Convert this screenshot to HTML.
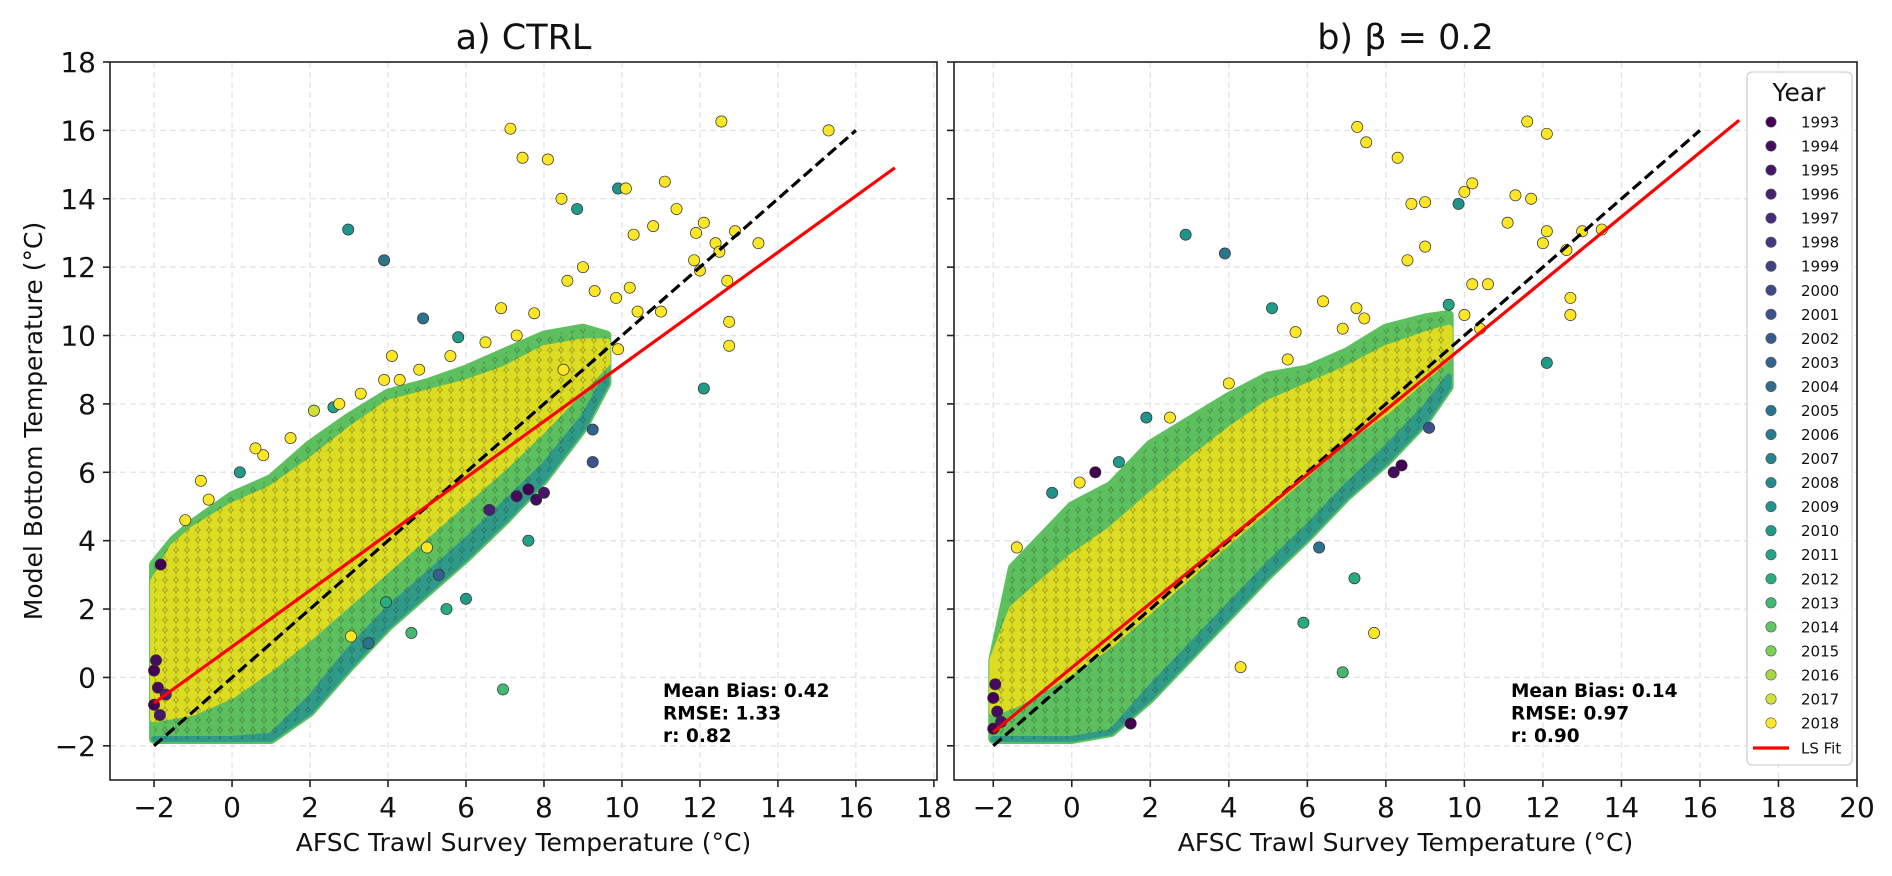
<!DOCTYPE html>
<html><head><meta charset="utf-8"><style>
html,body{margin:0;padding:0;background:#fff}
svg{display:block;font-family:"DejaVu Sans","Liberation Sans",sans-serif}
</style></head><body>
<svg id="fig" width="1892" height="876" viewBox="0 0 1892 876">
<defs>
<pattern id="tex" width="11" height="10" patternUnits="userSpaceOnUse">
<circle cx="5.5" cy="5" r="5.8" fill="none" stroke="#222" stroke-width="0.7" stroke-opacity="0.4"/>
</pattern>
</defs>
</svg>
<script>
// ---------- data ----------
const years = [1993,1994,1995,1996,1997,1998,1999,2000,2001,2002,2003,2004,2005,2006,2007,2008,2009,2010,2011,2012,2013,2014,2015,2016,2017,2018];
const envX = [-2,-1.5,-1,0,1,2,3,4,5,6,7,8,9,9.6];
// left panel (CTRL) density envelope
const ctrlLo = [-1.8,-1.8,-1.8,-1.8,-1.8,-1.0,0.3,1.5,2.5,3.5,4.6,5.8,7.3,8.6];
const ctrlHi = [3.3,4.0,4.5,5.3,5.8,6.8,7.6,8.3,8.6,9.0,9.5,10.0,10.2,10.0];
const ctrlTealHi = [-1.8,-1.8,-1.8,-1.8,-1.7,-0.6,0.8,2.0,3.0,4.0,5.1,6.2,7.6,8.8];
const ctrlCoreLo = [-1.2,-1.1,-1.0,-0.5,0.3,1.2,2.2,3.2,4.2,5.2,6.2,7.3,8.5,9.2];
const ctrlCoreHi = [2.8,3.8,4.3,5.0,5.5,6.3,7.2,8.0,8.3,8.6,9.0,9.6,9.8,9.8];
// right panel (beta=0.2)
const betaLo = [-1.8,-1.8,-1.8,-1.8,-1.6,-0.6,0.6,1.8,3.0,4.1,5.3,6.3,7.5,8.5];
const betaHi = [0.5,3.2,3.8,5.0,5.6,6.8,7.5,8.2,8.8,9.0,9.5,10.2,10.5,10.6];
const betaTealHi = [-1.8,-1.8,-1.8,-1.8,-1.6,-0.3,0.9,2.1,3.3,4.4,5.6,6.7,7.9,8.8];
const betaCoreLo = [-1.0,-0.8,-0.5,0.2,1.0,2.0,3.0,4.0,5.0,6.0,7.0,7.8,8.8,9.4];
const betaCoreHi = [0.5,2.0,2.5,3.5,4.3,5.3,6.3,7.2,8.0,8.5,9.0,9.6,10.0,10.2];
// outlier points [x, y, yearIndex]
const ctrlPts = [[7.14,16.05,25],[12.55,16.26,25],[15.3,16.0,25],[7.45,15.2,25],[8.1,15.15,25],[2.98,13.1,16],[3.9,12.2,12],
[8.45,14.0,25],[8.85,13.7,17],[9.9,14.3,16],[10.1,14.3,25],[11.1,14.5,25],[11.4,13.7,25],[11.9,13.0,25],[12.1,13.3,25],[12.9,13.05,25],
[13.5,12.7,25],[12.4,12.7,25],[11.85,12.2,25],[12.0,11.9,25],[12.5,12.45,25],[12.7,11.6,25],[10.8,13.2,25],[10.3,12.95,25],[9.0,12.0,25],
[8.6,11.6,25],[9.3,11.3,25],[10.2,11.4,25],[10.4,10.7,25],[9.85,11.1,25],[11.0,10.7,25],[12.75,10.4,25],[12.75,9.7,25],[12.1,8.45,17],
[9.9,9.6,25],[7.75,10.65,25],[6.9,10.8,25],[6.95,-0.35,20],[5.0,3.8,25],[7.6,4.0,18],[3.95,2.2,19],[4.6,1.3,20],[3.05,1.2,25],
[9.25,7.25,10],[2.6,7.9,18],[2.1,7.8,24],[0.8,6.5,25],[0.6,6.7,25],[-0.6,5.2,25],[-0.8,5.75,25],[2.75,8.0,25],[3.9,8.7,25],[4.1,9.4,25],
[4.9,10.5,12],[5.8,9.95,17],[5.6,9.4,25],[4.3,8.7,25],[7.3,5.3,1],[7.6,5.5,0],[8.0,5.4,2],[7.8,5.2,1],[9.25,6.3,8],[6.6,4.9,3],
[-1.83,3.3,0],[-2.0,-0.8,0],[-1.9,-0.3,1],[-2.0,0.2,0],[-1.85,-1.1,2],[-1.95,0.5,1],[-1.7,-0.5,3],[6.0,2.3,17],[5.5,2.0,19],
[1.5,7.0,25],[0.2,6.0,17],[-1.2,4.6,25],[3.3,8.3,25],[4.8,9.0,25],[6.5,9.8,25],[7.3,10.0,25],[8.5,9.0,25],[5.3,3.0,10],[3.5,1.0,12]];
const betaPts = [[7.27,16.1,25],[7.5,15.65,25],[8.3,15.2,25],[11.6,16.26,25],[12.1,15.9,25],[8.65,13.85,25],[9.0,13.9,25],[9.85,13.85,16],
[10.2,14.45,25],[10.0,14.2,25],[11.3,14.1,25],[11.7,14.0,25],[11.1,13.3,25],[12.1,13.05,25],[12.0,12.7,25],[12.6,12.5,25],[13.0,13.05,25],
[13.5,13.1,25],[12.7,11.1,25],[12.7,10.6,25],[12.1,9.2,17],[8.55,12.2,25],[9.0,12.6,25],[10.2,11.5,25],[10.6,11.5,25],[10.0,10.6,25],
[2.9,12.95,16],[3.9,12.4,12],[6.4,11.0,25],[7.25,10.8,25],[7.45,10.5,25],[6.9,10.2,25],[5.7,10.1,25],[5.1,10.8,17],[9.6,10.9,18],
[6.9,0.15,20],[7.7,1.3,25],[5.9,1.6,19],[7.2,2.9,19],[4.3,0.3,25],[8.2,6.0,1],[8.4,6.2,0],[9.1,7.3,8],[0.6,6.0,0],[1.9,7.6,16],
[-2.0,-1.5,0],[-1.9,-1.0,1],[-2.0,-0.6,0],[-1.8,-1.3,2],[-1.95,-0.2,1],[-0.5,5.4,16],[1.5,-1.35,0],[6.3,3.8,12],[10.4,10.2,25],
[-1.4,3.8,25],[0.2,5.7,25],[1.2,6.3,17],[2.5,7.6,25],[4.0,8.6,25],[5.5,9.3,25]];
const ctrlStats = ["Mean Bias: 0.42","RMSE: 1.33","r: 0.82"];
const betaStats = ["Mean Bias: 0.14","RMSE: 0.97","r: 0.90"];
const ctrlFit = [-0.75, 0.824];   // intercept at x=-2, slope
const betaFit = [-1.6, 0.942];
const ctrlTicksX = [-2,0,2,4,6,8,10,12,14,16,18];
const betaTicksX = [-2,0,2,4,6,8,10,12,14,16,18,20];
const ticksY = [-2,0,2,4,6,8,10,12,14,16,18];

// ---------- helpers ----------
const NS = "http://www.w3.org/2000/svg";
const svg = document.getElementById('fig');
function mk(tag, attrs, parent){ const e=document.createElementNS(NS,tag); for(const k in attrs) e.setAttribute(k,attrs[k]); (parent||svg).appendChild(e); return e; }
const vstops=[[0,[68,1,84]],[0.13,[72,36,117]],[0.25,[65,68,135]],[0.38,[53,95,141]],[0.5,[42,120,142]],[0.63,[33,145,140]],[0.75,[34,168,132]],[0.88,[122,209,81]],[1,[253,231,37]]];
function viridis(t){ for(let i=1;i<vstops.length;i++){ if(t<=vstops[i][0]){ const a=vstops[i-1],b=vstops[i],f=(t-a[0])/(b[0]-a[0]); const c=a[1].map((v,j)=>Math.round(v+(b[1][j]-v)*f)); return `rgb(${c.join(',')})`; } } return 'rgb(253,231,37)'; }
function yearColor(i){ return viridis(i/(years.length-1)); }

function panel(cfg){
  const {L,R,T,B,xmin,xmax,ymin,ymax} = cfg;
  const g = mk('g',{});
  
  
  const sx = v => L + (v-xmin)/(xmax-xmin)*(R-L);
  const sy = v => B - (v-ymin)/(ymax-ymin)*(B-T);
  const clipId = cfg.name+'-clip';
  const cp = mk('clipPath',{id:clipId},g); mk('rect',{x:L,y:T,width:R-L,height:B-T},cp);
  const grid = mk('g',{stroke:'#e3e3e3','stroke-width':1.3,'stroke-dasharray':'6,4'},g);
   
  cfg.ticksX.forEach(t=>mk('line',{x1:sx(t),x2:sx(t),y1:T,y2:B},grid));
  ticksY.forEach(t=>mk('line',{x1:L,x2:R,y1:sy(t),y2:sy(t)},grid));
  const plot = mk('g',{'clip-path':`url(#${clipId})`},g);
  function band(lo,hi,fill,extra){
    let d='M'+envX.map((x,i)=>sx(x)+','+sy(hi[i])).join(' L');
    d+=' L'+envX.map((x,i)=>[x,i]).reverse().map(([x,i])=>sx(x)+','+sy(lo[i])).join(' L')+'Z';
    return mk('path',Object.assign({d:d,fill:fill,stroke:fill,'stroke-width':10,'stroke-linejoin':'round'},extra||{}),plot);
  }
  const c1=band(cfg.lo,cfg.hi,'#5cc05e');  
  const c2=band(cfg.lo,cfg.tealHi,'#2f9a88',{'stroke-width':6});  
  const c3=band(cfg.coreLo,cfg.coreHi,'#dcdc22',{'stroke-width':8});  
  const c4=band(cfg.lo,cfg.hi,'url(#tex)',{stroke:'none'});  
  cfg.pts.forEach(p=>{
    const c=mk('circle',{cx:sx(p[0]),cy:sy(p[1]),r:5.6,fill:yearColor(p[2]),stroke:'#333','stroke-width':0.7},plot);
    
    
  });
  const one = mk('line',{x1:sx(-2),y1:sy(-2),x2:sx(16),y2:sy(16),stroke:'#000','stroke-width':3.2,'stroke-dasharray':'11,5'},plot);
   
  const fit = mk('line',{x1:sx(-2),y1:sy(cfg.fit[0]),x2:sx(17),y2:sy(cfg.fit[0]+cfg.fit[1]*19),stroke:'#ff0000','stroke-width':3.2},plot);
   
  const sp = mk('rect',{x:L,y:T,width:R-L,height:B-T,fill:'none',stroke:'#222','stroke-width':1.6},g);
   
  cfg.ticksX.forEach(t=>{
    mk('line',{x1:sx(t),x2:sx(t),y1:B,y2:B+7,stroke:'#222','stroke-width':1.6},g);
    const tx=mk('text',{x:sx(t),y:817,'font-size':28,'text-anchor':'middle',fill:'#111'},g);
    tx.textContent=(t<0?'\u2212'+(-t):t);
     
  });
  ticksY.forEach(t=>{
    mk('line',{x1:L-7,x2:L,y1:sy(t),y2:sy(t),stroke:'#222','stroke-width':1.6},g);
    if(cfg.yLabels){
      const ty=mk('text',{x:L-14,y:sy(t)+10,'font-size':28,'text-anchor':'end',fill:'#111'},g);
      ty.textContent=(t<0?'\u2212'+(-t):t);
       
    }
  });
  const xl=mk('text',{x:(L+R)/2,y:851,'font-size':25,'text-anchor':'middle',fill:'#111'},g);
  xl.textContent='AFSC Trawl Survey Temperature (°C)';
   
  const ti=mk('text',{x:(L+R)/2,y:49,'font-size':35,'text-anchor':'middle',fill:'#111'},g);
  ti.textContent=cfg.title;
   
  cfg.stats.forEach((s,i)=>{
    const st=mk('text',{x:cfg.statX,y:697+i*22.5,'font-size':18.5,'font-weight':'bold',fill:'#000'},g);
    st.textContent=s;
     
  });
}

panel({name:'panel-ctrl',L:110,R:937,T:62,B:780,xmin:-3.13,xmax:18.08,ymin:-3.0,ymax:18.0,ticksX:ctrlTicksX,yLabels:true,
  lo:ctrlLo,hi:ctrlHi,tealHi:ctrlTealHi,coreLo:ctrlCoreLo,coreHi:ctrlCoreHi,pts:ctrlPts,fit:ctrlFit,title:'a) CTRL',stats:ctrlStats,statX:663});
panel({name:'panel-beta',L:954,R:1857,T:62,B:780,xmin:-3.0,xmax:20.0,ymin:-3.0,ymax:18.0,ticksX:betaTicksX,yLabels:false,
  lo:betaLo,hi:betaHi,tealHi:betaTealHi,coreLo:betaCoreLo,coreHi:betaCoreHi,pts:betaPts,fit:betaFit,title:'b) β = 0.2',stats:betaStats,statX:1511});

const yl=mk('text',{x:0,y:0,'font-size':25,'text-anchor':'middle',fill:'#111',transform:'translate(42,421) rotate(-90)'});
yl.textContent='Model Bottom Temperature (°C)';
 

const lg=mk('g',{});
 
mk('rect',{x:1747,y:72,width:105,height:693,rx:5,fill:'#fff','fill-opacity':0.85,stroke:'#d0d0d0','stroke-width':1.3},lg);
const lt=mk('text',{x:1799,y:101,'font-size':25,'text-anchor':'middle',fill:'#111'},lg);
lt.textContent='Year';
 
years.forEach((yr,i)=>{
  const y=122+i*24.04;
  const e=mk('g',{},lg);
   
  mk('circle',{cx:1771,cy:y,r:5.2,fill:yearColor(i),stroke:'#555','stroke-width':0.6},e);
  const t=mk('text',{x:1801,y:y+5.5,'font-size':15,fill:'#111'},e); t.textContent=yr;
});
const fe=mk('g',{},lg);
 
mk('line',{x1:1753,x2:1789,y1:748,y2:748,stroke:'#ff0000','stroke-width':3.2},fe);
const ft=mk('text',{x:1801,y:753.5,'font-size':15,fill:'#111'},fe); ft.textContent='LS Fit';
</script>
</body></html>
